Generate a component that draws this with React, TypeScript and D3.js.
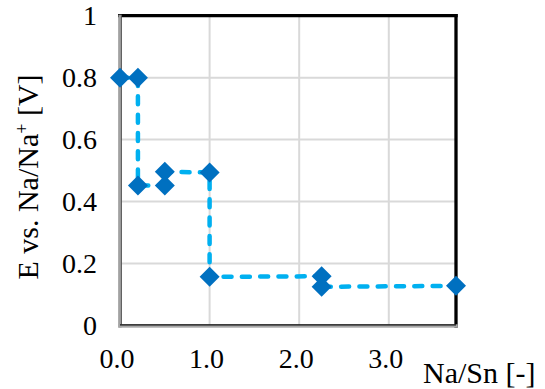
import React from "react";
import * as d3 from "d3";

const naSn = [0, 0.2, 0.2, 0.5, 0.5, 1.0, 1.0, 2.25, 2.25, 3.75];
const potential = [0.8, 0.8, 0.452, 0.452, 0.496, 0.494, 0.157, 0.159, 0.125, 0.128];
const xTicks = [0, 1, 2, 3];
const xTickLabels = ["0.0", "1.0", "2.0", "3.0"];
const yTicks = [0, 0.2, 0.4, 0.6, 0.8, 1];
const yTickLabels = ["0", "0.2", "0.4", "0.6", "0.8", "1"];

const W = 545;
const H = 389;
const FONT = "Liberation Serif";
const tStyle: React.CSSProperties = { fontFamily: FONT };

export default function App() {
  const x = d3.scaleLinear().domain([0, 3.75]).range([120, 456]);
  const y = d3.scaleLinear().domain([0, 1]).range([325.5, 15.7]);
  const pts = naSn.map((v, i) => [x(v), y(potential[i])] as [number, number]);
  const line = d3.line()(pts) || "";
  const diamond = (cx: number, cy: number, r: number) =>
    `M${cx},${cy - r}L${cx + r},${cy}L${cx},${cy + r}L${cx - r},${cy}Z`;

  const left = x(0);
  const right = x(3.75);
  const top = y(1);
  const bottom = y(0);

  return (
    <svg
      width={W}
      height={H}
      style={{ position: "absolute", left: 0, top: 0, background: "#fff" }}
    >
      <rect x={0} y={0} width={W} height={H} fill="#fff" />
      {/* gridlines */}
      {xTicks.filter((t) => t > 0).map((t) => (
        <line key={"gx" + t} x1={x(t)} x2={x(t)} y1={top} y2={bottom} stroke="#d9d9d9" strokeWidth={2} />
      ))}
      {yTicks.filter((t) => t > 0 && t < 1).map((t) => (
        <line key={"gy" + t} x1={left} x2={right} y1={y(t)} y2={y(t)} stroke="#d9d9d9" strokeWidth={2} />
      ))}
      {/* frame */}
      <line x1={left - 2} x2={right + 1.7} y1={top} y2={top} stroke="#000" strokeWidth={3.3} />
      <line x1={right} x2={right} y1={top - 1.7} y2={bottom + 2.2} stroke="#000" strokeWidth={3.3} />
      {/* left axis (double look) */}
      <rect x={left - 1.7} y={top - 1} width={3.4} height={bottom - top + 3} fill="#8a8a8a" />
      <line x1={left} x2={left} y1={top} y2={bottom} stroke="#c8c8c8" strokeWidth={0.8} />
      <line x1={left + 1.4} x2={left + 1.4} y1={top} y2={bottom} stroke="#444" strokeWidth={0.8} />
      {/* bottom axis */}
      <rect x={left - 1.7} y={bottom - 1.2} width={right - left + 3.4} height={3.4} fill="#a8a8a8" />
      <line x1={left} x2={right} y1={bottom - 0.6} y2={bottom - 0.6} stroke="#111" strokeWidth={1.2} />
      {/* data line */}
      <path
        d={line}
        fill="none"
        stroke="#00b0f0"
        strokeWidth={4.5}
        strokeDasharray="8 10.3"
        strokeLinecap="round"
      />
      {pts.map(([px, py], i) => (
        <path key={"m" + i} d={diamond(px, py, 10)} fill="#0070c0" />
      ))}
      {/* y tick labels */}
      {yTicks.map((t, i) => (
        <text key={"yl" + t} x={97} y={y(t) + 9.5} fontSize={28} textAnchor="end" fill="#000" style={tStyle}>
          {yTickLabels[i]}
        </text>
      ))}
      {/* x tick labels */}
      {xTicks.map((t, i) => (
        <text key={"xl" + t} x={x(t) - 3} y={368} fontSize={28} textAnchor="middle" fill="#000" style={tStyle}>
          {xTickLabels[i]}
        </text>
      ))}
      {/* axis titles */}
      <text
        transform="translate(38,177) rotate(-90)"
        fontSize={30}
        textAnchor="middle"
        fill="#000"
        style={tStyle}
      >
        E vs. Na/Na
        <tspan fontSize={18} dy={-10}>+</tspan>
        <tspan dy={10}> [V]</tspan>
      </text>
      <text x={423} y={383} fontSize={30} fill="#000" style={tStyle}>
        Na/Sn [-]
      </text>
    </svg>
  );
}
